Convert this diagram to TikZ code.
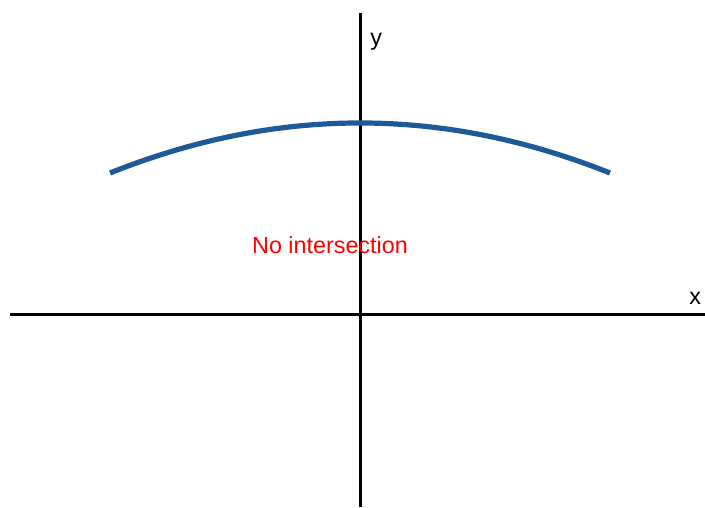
\documentclass[tikz,border=0pt]{standalone}
\usepackage{fontspec}
\setmainfont{Liberation Sans}
\definecolor{curveblue}{RGB}{31,90,152}
\begin{document}
\begin{tikzpicture}[x=0.75pt,y=-0.75pt,
  axis/.style={line width=2.4pt},
  lbl/.style={font=\fontsize{17.5}{19}\selectfont, inner sep=0pt},
  curve/.style={draw=curveblue, line width=3.9pt}]
\useasboundingbox (0,0) rectangle (705,507);
\coordinate (xl) at (10,314.5);
\coordinate (xr) at (705,314.5);
\coordinate (yb) at (360.5,507);
\coordinate (yt) at (360.5,13);
\draw[axis] (xl) -- (xr);
\draw[axis] (yb) -- (yt);
\node[lbl, anchor=base west] (ylab) at (370,45) {y};
\node[lbl, anchor=base west] (xlab) at (689,304) {x};
\coordinate (cl) at (110,173);
\coordinate (cr) at (610,173);
\draw[curve] (cl) .. controls (276.7,106.3) and (443.3,106.3) .. (cr);
\node[lbl, text=red, anchor=base] (msg) at (330,253) {No intersection};
\end{tikzpicture}
\end{document}
